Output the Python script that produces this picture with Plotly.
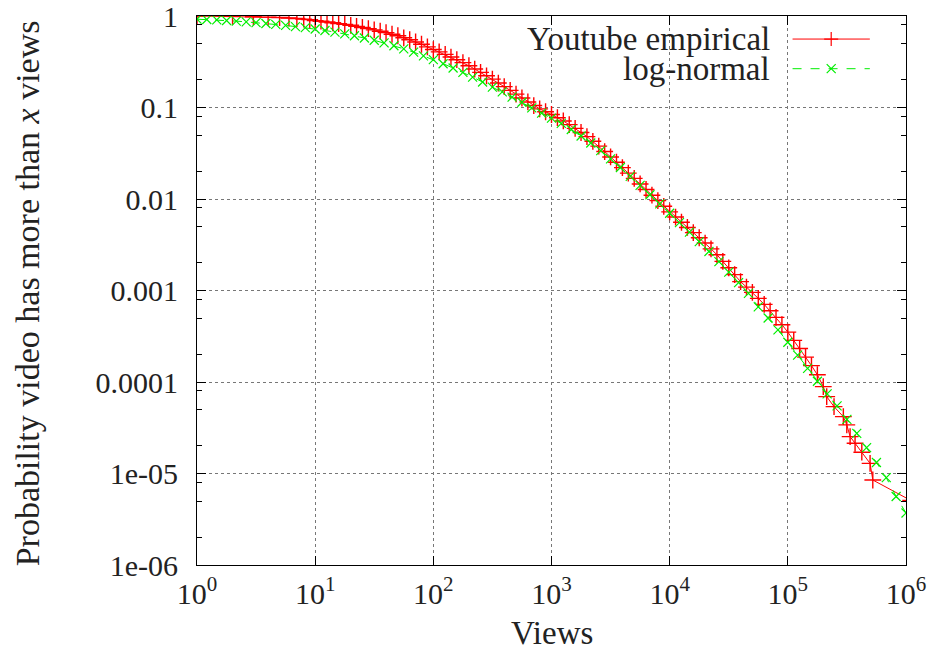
import plotly.graph_objects as go

# ---------------- data ----------------
emp_views = [1, 2, 3, 4, 5, 6, 7, 8, 9,
             10, 11.2, 12.6, 14.1, 15.8, 17.8, 20.0, 22.4, 25.1, 28.2,
             31.6, 35.5, 39.8, 44.7, 50.1, 56.2, 63.1, 70.8, 79.4, 89.1,
             100, 112, 126, 141, 158, 178, 200, 224, 251, 282,
             316, 355, 398, 447, 501, 562, 631, 708, 794, 891,
             1000, 1122, 1259, 1413, 1585, 1778, 1995, 2239, 2512, 2818,
             3162, 3548, 3981, 4467, 5012, 5623, 6310, 7079, 7943, 8913,
             10000, 11220, 12589, 14125, 15849, 17783, 19953, 22387, 25119, 28184,
             31623, 35481, 39811, 44668, 50119, 56234, 63096, 70795, 79433, 89125,
             100000, 112202, 125893, 141254, 158489, 177828, 199526,
             213300, 246000, 295000, 315500, 336500, 370700, 422700, 496600, 523600,
             1096000]
emp_prob = [1.0, 0.991, 0.982, 0.973, 0.962, 0.951, 0.938, 0.925, 0.912,
            0.891, 0.877, 0.861, 0.843, 0.826, 0.809, 0.791, 0.771, 0.750, 0.728,
            0.706, 0.682, 0.658, 0.632, 0.608, 0.578, 0.550, 0.520, 0.491, 0.460,
            0.430, 0.405, 0.381, 0.356, 0.333, 0.309, 0.286, 0.263, 0.242, 0.222,
            0.204, 0.185, 0.169, 0.154, 0.140, 0.127, 0.115, 0.105, 0.0966, 0.0899,
            0.0839, 0.0774, 0.0713, 0.0650, 0.0592, 0.0533, 0.0481, 0.0427, 0.0378, 0.0330,
            0.0288, 0.0252, 0.0220, 0.0192, 0.0168, 0.0146, 0.0127, 0.0110, 0.00959, 0.00832,
            0.00723, 0.00635, 0.00557, 0.00489, 0.00429, 0.00377, 0.00330, 0.00285, 0.00246, 0.00208,
            0.00177, 0.00149, 0.00125, 0.00109, 0.000955, 0.000820, 0.000705, 0.000600, 0.000509, 0.000423,
            0.000351, 0.000285, 0.000232, 0.000187, 0.000151, 0.000120, 8.91e-5,
            6.92e-5, 5.38e-5, 4.18e-5, 3.40e-5, 2.53e-5, 2.14e-5, 1.71e-5, 1.29e-5, 8.49e-6,
            5.08e-6]

ln_views = [1, 1.21, 1.47, 1.78, 2.15, 2.61, 3.16, 3.83, 4.64, 5.62, 6.81, 8.25,
            10, 12.1, 14.7, 17.8, 21.5, 26.1, 31.6, 38.3, 46.4, 56.2, 68.1, 82.5,
            100, 121, 147, 178, 215, 261, 316, 383, 464, 562, 681, 825,
            1000, 1210, 1470, 1780, 2150, 2610, 3160, 3830, 4640, 5620, 6810, 8250,
            10000, 12100, 14700, 17800, 21500, 26100, 31600, 38300, 46400, 56200, 68100, 82500,
            100000, 121000, 147000, 178000, 215000, 261000, 316000, 383000, 464000, 562000, 681000, 825000,
            1000000]
ln_prob = [0.923, 0.916, 0.906, 0.893, 0.879, 0.863, 0.847, 0.828, 0.809, 0.789, 0.766, 0.745,
           0.721, 0.695, 0.667, 0.638, 0.608, 0.575, 0.543, 0.508, 0.473, 0.438, 0.403, 0.367,
           0.333, 0.301, 0.270, 0.242, 0.215, 0.190, 0.167, 0.148, 0.130, 0.114, 0.0991, 0.0867,
           0.0766, 0.0670, 0.0575, 0.0488, 0.0409, 0.0338, 0.0275, 0.0221, 0.0177, 0.0141, 0.01114, 0.00883,
           0.00698, 0.00552, 0.00435, 0.00342, 0.00267, 0.00207, 0.00159, 0.00122, 0.000931, 0.000661, 0.000501, 0.000372,
           0.000272, 0.000197, 0.000141, 0.000102, 7.41e-5, 5.48e-5, 3.91e-5, 2.75e-5, 1.92e-5, 1.32e-5, 9.0e-6, 5.6e-6,
           3.7e-6]

series_names = ["Youtube empirical", "log-normal"]
x_tick_vals = [1, 10, 100, 1000, 1e4, 1e5, 1e6]
x_tick_text = ["10<sup>0</sup>", "10<sup>1</sup>", "10<sup>2</sup>", "10<sup>3</sup>",
               "10<sup>4</sup>", "10<sup>5</sup>", "10<sup>6</sup>"]
y_tick_vals = [1e-6, 1e-5, 1e-4, 1e-3, 1e-2, 1e-1, 1]
y_tick_text = ["1e-06", "1e-05", "0.0001", "0.001", "0.01", "0.1", "1"]
x_title = "Views"
y_title = "Probability video has more than <i>x</i> views"

# ---------------- styles ----------------
FONT = "Liberation Serif"
TXT = "#222222"
RED = "#ff0000"
GREEN = "#00ee00"

y_minor = [m * 10.0 ** e for e in range(-6, 0) for m in (2, 5, 8)]

fig = go.Figure()
fig.add_trace(go.Scatter(
    x=emp_views, y=emp_prob, mode="lines+markers", name=series_names[0],
    line=dict(color=RED, width=1),
    marker=dict(symbol="cross-thin", size=12, line=dict(color=RED, width=1.4)),
    showlegend=False))
fig.add_trace(go.Scatter(
    x=ln_views, y=ln_prob, mode="lines+markers", name=series_names[1],
    line=dict(color=GREEN, width=1, dash="dash"),
    marker=dict(symbol="x-thin", size=9, line=dict(color=GREEN, width=1.2)),
    showlegend=False))

# legend keys (gnuplot style: text on the left, sample on the right)
leg_rows = [0.958, 0.904]
leg_styles = [
    (dict(color=RED, width=1), dict(symbol="cross-thin", size=10, line=dict(color=RED, width=1.2))),
    (dict(color=GREEN, width=1, dash="dash"), dict(symbol="x-thin", size=9, line=dict(color=GREEN, width=1.2))),
]
for name, yr, (ln, mk) in zip(series_names, leg_rows, leg_styles):
    fig.add_trace(go.Scatter(x=[0.840, 0.949], y=[yr, yr], xaxis="x2", yaxis="y2",
                             mode="lines", line=ln, showlegend=False, hoverinfo="skip"))
    fig.add_trace(go.Scatter(x=[0.8945], y=[yr], xaxis="x2", yaxis="y2",
                             mode="markers", marker=mk, showlegend=False, hoverinfo="skip"))
    fig.add_annotation(text=name, xref="paper", yref="paper", x=0.8105, y=yr,
                       xanchor="right", yanchor="middle", showarrow=False,
                       font=dict(family=FONT, size=33, color=TXT))

fig.add_annotation(text=x_title, xref="paper", yref="paper", x=0.5, y=-0.124,
                   xanchor="center", yanchor="middle", showarrow=False,
                   font=dict(family=FONT, size=33, color=TXT))
fig.add_annotation(text=y_title, xref="paper", yref="paper", x=-0.239, y=0.494,
                   xanchor="center", yanchor="middle", showarrow=False, textangle=-90,
                   font=dict(family=FONT, size=34, color=TXT))

axis_common = dict(
    showline=True, linecolor="black", linewidth=1, mirror="ticks",
    ticks="inside", ticklen=9, tickwidth=1, tickcolor="black",
    showgrid=True, gridcolor="#777777", griddash="dot", gridwidth=1,
    zeroline=False, automargin=False, ticklabeloverflow="allow",
    tickfont=dict(family=FONT, size=30, color=TXT),
)
fig.update_layout(
    width=930, height=650,
    margin=dict(l=197, r=24, t=16, b=85),
    paper_bgcolor="white", plot_bgcolor="white",
    font=dict(family=FONT, color=TXT),
    xaxis=dict(type="log", range=[0, 6], tickmode="array",
               tickvals=x_tick_vals, ticktext=x_tick_text, ticklabelstandoff=2,
               **axis_common),
    yaxis=dict(type="log", range=[-6, 0], tickmode="array",
               tickvals=y_tick_vals, ticktext=y_tick_text, ticklabelstandoff=12,
               minor=dict(tickmode="array", tickvals=y_minor, ticks="inside",
                          ticklen=5, tickcolor="black", showgrid=False),
               **axis_common),
    xaxis2=dict(overlaying="x", anchor="y2", range=[0, 1], visible=False),
    yaxis2=dict(overlaying="y", anchor="x2", range=[0, 1], visible=False),
    showlegend=False,
)

fig.write_html("out.html")
